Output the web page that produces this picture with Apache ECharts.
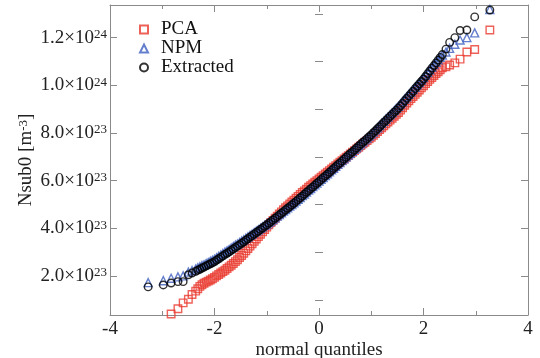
<!DOCTYPE html>
<html><head><meta charset="utf-8">
<script src="https://cdn.jsdelivr.net/npm/echarts@6/dist/echarts.min.js"></script>
<style>html,body{margin:0;padding:0;background:#fff}#c{width:540px;height:358px}</style>
</head><body><div id="c"></div>
<script>
// normal quantiles (x) shared by the three series
const quantiles = [-3.27,-2.98,-2.83,-2.70,-2.60,-2.50,-2.43,
  -2.36,-2.32,-2.28,-2.24,-2.20,-2.16,-2.12,-2.08,-2.04,-2.00,
  -1.96,-1.92,-1.88,-1.84,-1.80,-1.76,-1.72,-1.68,-1.64,-1.60,-1.56,-1.52,
  -1.48,-1.44,-1.40,-1.36,-1.32,-1.28,-1.24,-1.20,-1.16,-1.12,-1.08,-1.04,-1.00,
  -0.96,-0.92,-0.88,-0.84,-0.80,-0.76,-0.72,-0.68,-0.64,-0.60,-0.56,-0.52,-0.48,
  -0.44,-0.40,-0.36,-0.32,-0.28,-0.24,-0.20,-0.16,-0.12,-0.08,-0.04,0.00,
  0.04,0.08,0.12,0.16,0.20,0.24,0.28,0.32,0.36,0.40,0.44,0.48,0.52,0.56,0.60,0.64,0.68,0.72,0.76,0.80,0.84,0.88,0.92,0.96,1.00,
  1.04,1.08,1.12,1.16,1.20,1.24,1.28,1.32,1.36,1.40,1.44,1.48,1.52,
  1.56,1.60,1.64,1.68,1.72,1.76,1.80,1.84,1.88,1.92,1.96,2.00,
  2.04,2.08,2.12,2.16,2.20,2.24,2.28,2.32,2.36,
  2.43,2.50,2.60,2.70,2.83,2.98,3.27];
// Nsub0 values in units of 1e23 m^-3
const pcaValues = [null,null,0.40,0.62,0.87,1.02,1.22,
  1.36,1.46,1.56,1.63,1.69,1.74,1.78,1.83,1.88,1.94,
  2.00,2.06,2.12,2.18,2.24,2.31,2.38,2.45,2.52,2.60,2.68,2.77,
  2.86,2.95,3.05,3.15,3.25,3.35,3.45,3.55,3.65,3.75,3.85,3.95,4.05,
  4.15,4.24,4.33,4.42,4.51,4.60,4.69,4.78,4.86,4.94,5.02,5.10,5.18,
  5.26,5.34,5.42,5.50,5.57,5.64,5.72,5.79,5.86,5.93,6.00,6.07,
  6.14,6.21,6.28,6.35,6.42,6.49,6.56,6.63,6.70,6.77,6.84,6.91,6.98,7.05,7.12,7.19,7.26,7.33,7.40,7.47,7.54,7.61,7.68,7.75,7.82,
  7.90,7.98,8.06,8.14,8.22,8.30,8.38,8.46,8.54,8.62,8.70,8.78,8.86,
  8.96,9.06,9.16,9.26,9.35,9.44,9.53,9.62,9.71,9.80,9.89,9.98,
  10.07,10.16,10.25,10.33,10.41,10.49,10.57,10.65,10.73,
  10.78,10.85,10.94,11.10,11.40,11.50,12.32];
const npmValues = [1.72,1.80,1.90,1.96,2.00,2.16,2.22,
  2.29,2.34,2.38,2.43,2.47,2.52,2.56,2.61,2.65,2.70,
  2.76,2.82,2.88,2.94,3.00,3.05,3.11,3.17,3.23,3.29,3.34,3.40,
  3.46,3.52,3.58,3.64,3.70,3.76,3.82,3.88,3.94,4.00,4.06,4.12,4.18,
  4.24,4.30,4.37,4.44,4.51,4.58,4.65,4.72,4.79,4.86,4.93,5.00,5.07,
  5.14,5.22,5.29,5.37,5.44,5.52,5.60,5.67,5.75,5.82,5.90,5.98,
  6.05,6.13,6.21,6.29,6.37,6.45,6.52,6.60,6.68,6.76,6.84,6.92,7.00,7.07,7.15,7.23,7.31,7.39,7.47,7.55,7.63,7.71,7.79,7.87,7.95,
  8.04,8.13,8.22,8.31,8.40,8.49,8.58,8.67,8.76,8.85,8.94,9.03,9.12,
  9.22,9.32,9.42,9.52,9.62,9.72,9.82,9.92,10.02,10.12,10.22,10.32,
  10.43,10.54,10.65,10.76,10.87,10.97,11.07,11.17,11.27,
  11.40,11.55,11.72,11.90,12.00,12.20,13.18];
const extractedValues = [1.54,1.62,1.70,1.76,1.76,2.05,2.12,
  2.19,2.24,2.28,2.33,2.37,2.42,2.46,2.51,2.55,2.60,
  2.66,2.72,2.78,2.84,2.90,2.95,3.01,3.07,3.13,3.19,3.25,3.31,
  3.37,3.43,3.50,3.56,3.63,3.69,3.75,3.82,3.88,3.95,4.01,4.08,4.14,
  4.21,4.28,4.35,4.42,4.49,4.56,4.63,4.70,4.77,4.84,4.91,4.98,5.05,
  5.13,5.20,5.28,5.35,5.43,5.51,5.58,5.66,5.73,5.81,5.89,5.96,
  6.04,6.12,6.20,6.27,6.35,6.43,6.51,6.59,6.67,6.74,6.82,6.90,6.98,7.06,7.14,7.21,7.29,7.37,7.45,7.53,7.61,7.68,7.76,7.84,7.92,
  8.01,8.09,8.18,8.26,8.35,8.44,8.52,8.61,8.70,8.78,8.87,8.95,9.04,
  9.14,9.24,9.35,9.45,9.55,9.65,9.75,9.86,9.96,10.06,10.16,10.26,
  10.37,10.49,10.60,10.72,10.83,10.94,11.06,11.17,11.29,
  11.52,11.80,12.00,12.30,12.32,12.87,13.16];

const xTickValues = [-4,-2,0,2,4];
const xTickLabels = ['-4','-2','0','2','4'];
const yTickValues = [2,4,6,8,10,12];
const yTickMantissa = ['2.0','4.0','6.0','8.0','1.0','1.2'];
const yTickExponent = ['23','23','23','23','24','24'];
const yMinorValues = [1,3,5,7,9,11,13];
const seriesNames = ['PCA','NPM','Extracted'];

const FONT = 'Liberation Serif';
const AX = '#8a8a8a';
const YMIN = 0.36, YMAX = 13.37;

function pairs(ys){ const out=[]; ys.forEach((y,i)=>{ if(y!==null) out.push([quantiles[i], y]); }); return out; }

const chart = echarts.init(document.getElementById('c'), null, {renderer:'canvas'});
const axLine = {show:true, onZero:false, lineStyle:{color:AX, width:1}};
function yAxisDef(pos, ticks, len, showLine, labels, extra){
  return Object.assign({
    type:'value', position:pos, min:YMIN, max:YMAX,
    axisLine: showLine ? axLine : {show:false},
    axisTick:{show:true, inside:true, length:len, customValues:ticks, lineStyle:{color:AX}},
    axisLabel: labels ? {
      show:true, customValues:yTickValues, margin:3, color:'#222',
      formatter: v => { const i = yTickValues.indexOf(Math.round(v)); return '{m|'+yTickMantissa[i]+'×10}{s|'+yTickExponent[i]+'}'; },
      rich:{ m:{fontFamily:FONT, fontSize:19, color:'#222'}, s:{fontFamily:FONT, fontSize:13, color:'#222', verticalAlign:'top', lineHeight:12} }
    } : {show:false},
    splitLine:{show:false}
  }, extra||{});
}
function xAxisDef(pos, labels, extra){
  return Object.assign({
    type:'value', position:pos, min:-4, max:4, interval:2,
    axisLine:axLine,
    axisTick:{show:true, inside:true, length:7, lineStyle:{color:AX}},
    minorTick:{show:true, splitNumber:2, length:4, lineStyle:{color:AX}},
    splitLine:{show:false}, minorSplitLine:{show:false},
    axisLabel: labels ? {show:true, margin:5, fontFamily:FONT, fontSize:19, color:'#222',
      formatter: v => xTickLabels[xTickValues.indexOf(v)]} : {show:false}
  }, extra||{});
}

const colors = ['#e8392e','#4060c0','#000000'];
const symbols = ['rect','triangle','circle'];
const valueSets = [pcaValues, npmValues, extractedValues];

chart.setOption({
  animation:false,
  backgroundColor:'#fff',
  grid:{left:110, right:12, top:5, bottom:43, containLabel:false, outerBoundsMode:'none'},
  legend:{
    orient:'vertical', left:134, top:15, itemWidth:8, itemHeight:8, itemGap:0,
    selectedMode:false,
    textStyle:{fontFamily:FONT, fontSize:19, color:'#111', padding:[0,0,0,8]},
    data: seriesNames
  },
  xAxis:[
    xAxisDef('bottom', true, {name:'normal quantiles', nameLocation:'middle', nameGap:26, nameMoveOverlap:false,
      nameTextStyle:{fontFamily:FONT, fontSize:19, color:'#222'}}),
    xAxisDef('top', false)
  ],
  yAxis:[
    yAxisDef('left', yTickValues, 7, true, true, {
      name:'{a|Nsub0 [m}{s|-3}{a|]}', nameLocation:'middle', nameGap:74, nameMoveOverlap:false,
      nameTextStyle:{rich:{a:{fontFamily:FONT, fontSize:19, color:'#222'}, s:{fontFamily:FONT, fontSize:13, color:'#222', verticalAlign:'top', lineHeight:12}}}
    }),
    yAxisDef('left', yMinorValues, 4, false, false),
    yAxisDef('right', yTickValues, 7, true, false),
    yAxisDef('right', yMinorValues, 4, false, false)
  ],
  series: seriesNames.map((n,k)=>({
    type:'scatter', name:n, xAxisIndex:0, yAxisIndex:0,
    symbol:symbols[k], symbolSize: k===1 ? 8 : 7.5,
    itemStyle:{color:'rgba(0,0,0,0)', borderColor:colors[k], borderWidth:1.4},
    emphasis:{disabled:true},
    data: pairs(valueSets[k])
  }))
});
</script>
</body></html>
